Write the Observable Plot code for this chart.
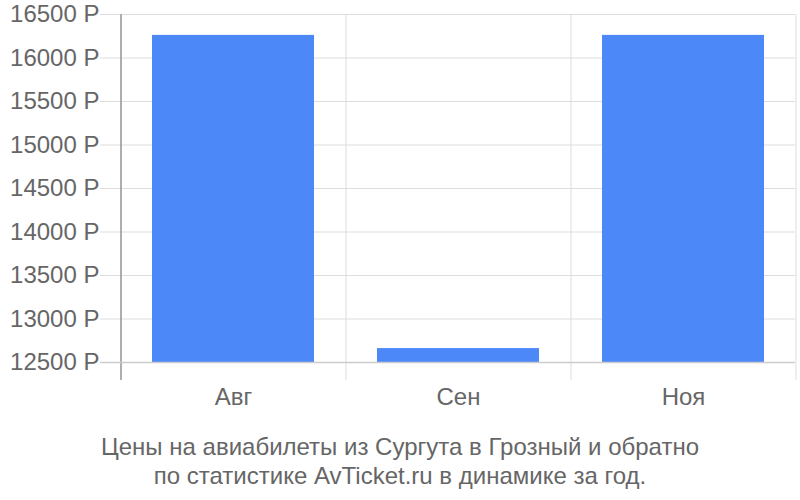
<!DOCTYPE html>
<html>
<head>
<meta charset="utf-8">
<script src="https://cdn.jsdelivr.net/npm/d3@7"></script>
<script src="https://cdn.jsdelivr.net/npm/@observablehq/plot@0.6"></script>
<style>
  body { margin: 0; background: #fff; font-family: "Liberation Sans", Arial, sans-serif; }
  #chart svg { display: block; }
  #caption { width: 800px; text-align: center; font-size: 24px; line-height: 29px; color: #666; padding-top: 12px; }
</style>
</head>
<body>
<div id="chart"></div>
<div id="caption">Цены на авиабилеты из Сургута в Грозный и обратно<br>по статистике AvTicket.ru в динамике за год.</div>
<script>
const months = ["Авг", "Сен", "Ноя"];
const prices = [16260, 12660, 16260];
const yTicks = [12500, 13000, 13500, 14000, 14500, 15000, 15500, 16000, 16500];
const data = months.map((m, i) => ({month: m, price: prices[i]}));

const xRange = [120, 795];
const step = (xRange[1] - xRange[0]) / months.length;

const chart = Plot.plot({
  width: 800,
  height: 420,
  marginTop: 14,
  marginLeft: 100,
  marginRight: 5,
  marginBottom: 40,
  style: {fontFamily: "'Liberation Sans', Arial, sans-serif", background: "#fff"},
  x: {domain: months, range: xRange, paddingInner: 0.28, paddingOuter: 0.14, label: null},
  y: {domain: [12500, 16500], range: [362, 14], label: null},
  marks: [
    Plot.gridY(yTicks, {stroke: "#ddd", strokeOpacity: 1, strokeWidth: 1}),
    Plot.ruleX(months, {x: d => d, dx: -step / 2, stroke: "#ddd", strokeWidth: 1}),
    Plot.ruleX(months.slice(-1), {x: d => d, dx: step / 2, stroke: "#ddd", strokeWidth: 1}),
    Plot.ruleX(months.slice(0, 1), {x: d => d, dx: -step / 2, stroke: "#999", strokeWidth: 1.5}),
    Plot.barY(data, {x: "month", y1: yTicks[0], y2: "price", fill: "#4d88f9"}),
    Plot.ruleY([yTicks[0]], {stroke: "#ccc", strokeWidth: 1.5}),
    Plot.axisY(yTicks, {tickSize: 0, tickPadding: 1, fontSize: 24, fill: "#666", tickFormat: d => d + " Р", label: null}),
    Plot.axisX({tickSize: 0, tickPadding: 7, fontSize: 24, fill: "#666", label: null})
  ]
});
document.getElementById("chart").appendChild(chart);
</script>
</body>
</html>
